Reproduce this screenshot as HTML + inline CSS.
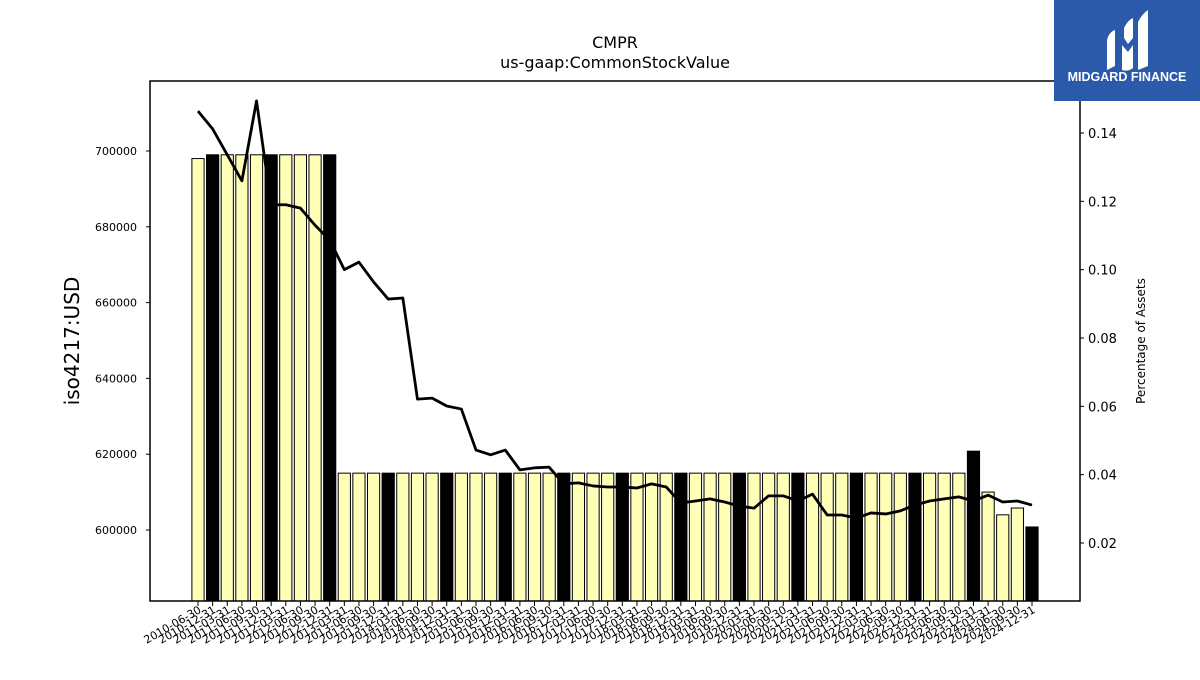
<!DOCTYPE html>
<html><head><meta charset="utf-8"><style>
body{margin:0;background:#fff;width:1200px;height:675px;overflow:hidden;font-family:"Liberation Sans",sans-serif}
</style></head><body>
<svg id="chart" width="1200" height="675" xmlns="http://www.w3.org/2000/svg" style="font-family:'DejaVu Sans','Liberation Sans',sans-serif">
<text x="615" y="48" font-size="16" text-anchor="middle">CMPR</text>
<text x="615" y="68" font-size="16" text-anchor="middle">us-gaap:CommonStockValue</text>
<g id="bars"></g>
<g id="line"></g>
<rect x="150" y="81" width="930" height="520" fill="none" stroke="#000" stroke-width="1.5"/>
<g id="yleft"></g>
<g id="yright"></g>
<g id="xaxis"></g>
<text transform="translate(79,341) rotate(-90)" font-size="20" text-anchor="middle">iso4217:USD</text>
<text transform="translate(1145,341) rotate(-90)" font-size="12" text-anchor="middle">Percentage of Assets</text>
<g>
<rect x="1054" y="0" width="146" height="101" fill="#2b5aab"/>
<path d="M1107 70 L1107 40 Q1109 32 1115 30 L1115 66 Z" fill="#fff"/>
<path d="M1122 70 L1122 45 L1128 52 L1133 45 L1133 68 Q1128 72 1122 70 Z M1124 28 Q1128 20 1133 18 L1133 38 L1128 44 L1124 38 Z" fill="#fff"/>
<path d="M1138 70 L1138 22 Q1142 14 1148 10 L1148 66 Z" fill="#fff"/>
<text x="1127" y="81" font-size="12.5" font-weight="bold" fill="#fff" text-anchor="middle" font-family="'Liberation Sans',sans-serif">MIDGARD FINANCE</text>
</g>
</svg>
<script>
const values=[698000,699000,699000,699000,699000,699000,699000,699000,699000,699000,
615000,615000,615000,615000,615000,615000,615000,615000,615000,615000,
615000,615000,615000,615000,615000,615000,615000,615000,615000,615000,
615000,615000,615000,615000,615000,615000,615000,615000,615000,615000,
615000,615000,615000,615000,615000,615000,615000,615000,615000,615000,
615000,615000,615000,620800,610000,604000,605800,600800];
const pct=[0.1464,0.1412,0.1336,0.126,0.1494,0.119,0.119,0.118,0.113,0.1087,
0.100,0.1022,0.0964,0.0914,0.0917,0.0621,0.0624,0.0601,0.0592,0.0472,
0.0458,0.0472,0.0414,0.042,0.0422,0.0373,0.0376,0.0367,0.0364,0.0364,
0.0361,0.0373,0.0364,0.0317,0.0323,0.0329,0.032,0.0308,0.0302,0.0338,
0.0338,0.0323,0.0343,0.0282,0.0282,0.0273,0.0288,0.0285,0.0294,0.0311,
0.0323,0.0329,0.0335,0.0323,0.034,0.032,0.0323,0.0311];
const leftTicks=[600000,620000,640000,660000,680000,700000];
const rightTicks=[0.02,0.04,0.06,0.08,0.10,0.12,0.14];
const labels=["2010-06-30"];
(function(){const md=["03-31","06-30","09-30","12-31"];labels.push("2010-12-31");
for(let y=2011;y<=2024;y++)for(const m of md)labels.push(y+"-"+m);})();
const NS="http://www.w3.org/2000/svg";
const X0=198,DX=(1032-198)/57,BW=12.2,BOT=601;
const xs=i=>X0+i*DX;
const yl=v=>530-(v-600000)*379/100000;
const yr=p=>543-(p-0.02)*410/0.12;
function mk(t,a,p){const e=document.createElementNS(NS,t);for(const k in a)e.setAttribute(k,a[k]);p.appendChild(e);return e;}
const gb=document.getElementById('bars');
values.forEach((v,i)=>{const blk=i%4===1;const r=mk('rect',{x:xs(i)-BW/2,y:yl(v),width:BW,height:BOT-yl(v),fill:blk?'#000':'#ffffb8',stroke:'#000','stroke-width':1},gb);

});
const gl=document.getElementById('line');
const pl=mk('polyline',{points:pct.map((p,i)=>xs(i)+','+yr(p)).join(' '),fill:'none',stroke:'#000','stroke-width':2.8,'stroke-linejoin':'round'},gl);


const gyl=document.getElementById('yleft');
leftTicks.forEach(v=>{const y=yl(v);mk('line',{x1:146,x2:150,y1:y,y2:y,stroke:'#000'},gyl);
const t=mk('text',{x:137,y:y+4,'font-size':11,'text-anchor':'end'},gyl);t.textContent=v;

});
const gyr=document.getElementById('yright');
rightTicks.forEach(p=>{const y=yr(p);mk('line',{x1:1080,x2:1084,y1:y,y2:y,stroke:'#000'},gyr);
const t=mk('text',{x:1088,y:y+5,'font-size':13},gyr);t.textContent=p.toFixed(2);

});
const gx=document.getElementById('xaxis');
labels.forEach((l,i)=>{const x=xs(i);mk('line',{x1:x,x2:x,y1:601,y2:606,stroke:'#000'},gx);
const t=mk('text',{x:0,y:0,'font-size':11,'text-anchor':'end',transform:'translate('+(x+4)+',612) rotate(-30)'},gx);t.textContent=l;

});
</script>
</body></html>
